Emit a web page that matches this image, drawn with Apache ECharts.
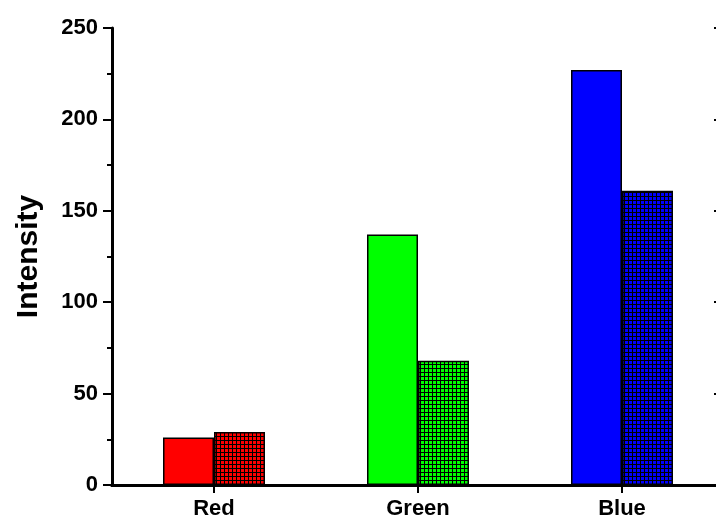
<!DOCTYPE html>
<html>
<head>
<meta charset="utf-8">
<script src="https://cdn.jsdelivr.net/npm/echarts@6/dist/echarts.min.js"></script>
<style>
  html, body { margin: 0; padding: 0; background: #fff; }
  #chart { width: 716px; height: 519px; }
</style>
</head>
<body>
<div id="chart"></div>
<script>
// Channel intensities
const categories = ['Red', 'Green', 'Blue'];
const plainValues = [26, 137, 227];
const meshValues = [29, 68, 161];
const yTicks = [0, 50, 100, 150, 200, 250];

const channelColors = ['#ff0000', '#00ff00', '#0000ff'];

// Small tile: channel colour crossed by a fine black grid
function meshPattern(color) {
  const c = document.createElement('canvas');
  c.width = 4; c.height = 4;
  const ctx = c.getContext('2d');
  ctx.fillStyle = color;
  ctx.fillRect(0, 0, 4, 4);
  ctx.fillStyle = '#000';
  ctx.fillRect(0, 0, 4, 1);
  ctx.fillRect(0, 0, 1, 4);
  return c;
}

const font = 'Liberation Sans, Arial, sans-serif';
const chart = echarts.init(document.getElementById('chart'), null, { renderer: 'canvas' });

const border = { show: true, lineStyle: { color: '#000', width: 3 } };

chart.setOption({
  animation: false,
  backgroundColor: '#fff',
  grid: { left: 112, top: 28, width: 612, height: 457, outerBoundsMode: 'none', containLabel: false },
  xAxis: [
    {
      type: 'category',
      data: categories,
      position: 'bottom',
      axisLine: border,
      axisTick: { show: true, alignWithLabel: true, length: 8, lineStyle: { color: '#000', width: 2 } },
      axisLabel: { color: '#000', fontSize: 22, fontWeight: 'bold', fontFamily: font, margin: 13 },
      splitLine: { show: false }
    },
    {
      type: 'category',
      data: categories,
      position: 'top',
      axisLine: border,
      axisTick: { show: false },
      axisLabel: { show: false },
      splitLine: { show: false }
    }
  ],
  yAxis: [
    {
      type: 'value',
      min: yTicks[0],
      max: yTicks[yTicks.length - 1],
      interval: 50,
      position: 'left',
      name: 'Intensity',
      nameLocation: 'middle',
      nameGap: 68,
      nameRotate: 90,
      nameTextStyle: { color: '#000', fontSize: 30, fontWeight: 'bold', fontFamily: font },
      axisLine: border,
      axisTick: { show: true, length: 9, lineStyle: { color: '#000', width: 2 } },
      minorTick: { show: true, splitNumber: 2, length: 5, lineStyle: { color: '#000', width: 2 } },
      axisLabel: { color: '#000', fontSize: 22, fontWeight: 'bold', fontFamily: font, margin: 14 },
      splitLine: { show: false }
    },
    {
      type: 'value',
      min: yTicks[0],
      max: yTicks[yTicks.length - 1],
      interval: 50,
      position: 'right',
      axisLine: border,
      axisTick: { show: true, inside: true, length: 10, lineStyle: { color: '#000', width: 2 } },
      axisLabel: { show: false },
      splitLine: { show: false }
    }
  ],
  series: [
    {
      type: 'bar',
      barWidth: 51,
      barGap: '0%',
      data: plainValues.map((v, i) => ({
        value: v,
        itemStyle: { color: channelColors[i] }
      })),
      itemStyle: { borderColor: '#000', borderWidth: 1.5 }
    },
    {
      type: 'bar',
      barWidth: 51,
      barGap: '0%',
      data: meshValues.map((v, i) => ({
        value: v,
        itemStyle: { color: { image: meshPattern(channelColors[i]), repeat: 'repeat' } }
      })),
      itemStyle: { borderColor: '#000', borderWidth: 1.5 }
    }
  ]
});
</script>
</body>
</html>
